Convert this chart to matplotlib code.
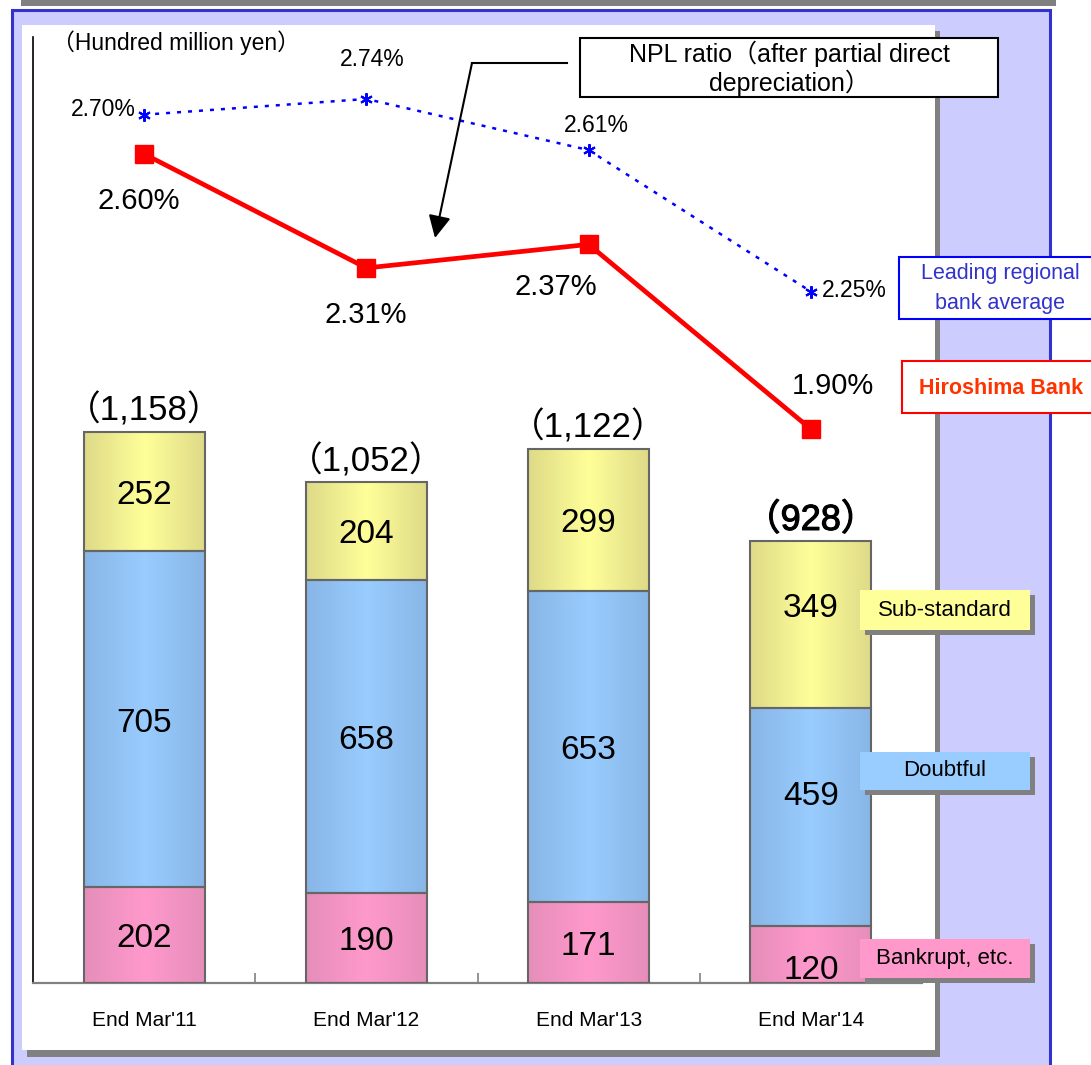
import matplotlib
matplotlib.use("Agg")
import matplotlib.pyplot as plt
import numpy as np
from matplotlib.patches import Rectangle, FancyArrowPatch
from matplotlib.lines import Line2D
from matplotlib.colors import LinearSegmentedColormap
import matplotlib.patheffects as pe

plt.rcParams['font.family'] = ['Liberation Sans', 'Noto Sans CJK JP', 'DejaVu Sans']

# data
periods = ["End Mar'11", "End Mar'12", "End Mar'13", "End Mar'14"]
bankrupt = [202, 190, 171, 120]
doubtful = [705, 658, 653, 459]
substandard = [252, 204, 299, 349]
totals = ["（1,158）", "（1,052）", "（1,122）", "（928）"]
npl_hiroshima = [2.60, 2.31, 2.37, 1.90]
npl_regional = [2.70, 2.74, 2.61, 2.25]

W, H = 1091, 1065
fig = plt.figure(figsize=(W / 100, H / 100), dpi=100)


def fx(x):
    return x / W


def fy(y):
    return 1 - y / H


def rect(x0, y0, x1, y1, **kw):
    r = Rectangle((fx(x0), fy(y1)), (x1 - x0) / W, (y1 - y0) / H,
                  transform=fig.transFigure, **kw)
    fig.add_artist(r)
    return r


# frame / background
rect(21, 0, 1056, 6, facecolor="#808080", edgecolor="none", zorder=-20)
rect(12, 10, 1050, 1070, facecolor="#CCCCFF", edgecolor="#3333CC", lw=2.2, zorder=-20)
rect(27, 31, 940, 1057, facecolor="#808080", edgecolor="none", zorder=-19)
rect(22, 25, 935, 1050, facecolor="white", edgecolor="none", zorder=-18)

# axes
ax = fig.add_axes([fx(33), fy(983), (922 - 33) / W, (983 - 37) / H])
ax.patch.set_visible(False)
x = np.arange(len(periods))
bw = 0.545

yellow = LinearSegmentedColormap.from_list("y", ["#DEDA88", "#FFFF99", "#DEDA88"])
blue = LinearSegmentedColormap.from_list("b", ["#88B6E6", "#99CCFF", "#88B6E6"])
pink = LinearSegmentedColormap.from_list("p", ["#E68EBA", "#FF99CC", "#E68EBA"])
grad = np.linspace(0, 1, 64).reshape(1, -1)

b1 = ax.bar(x, bankrupt, bw, facecolor="none", edgecolor="#666666", lw=1.5, zorder=3)
b2 = ax.bar(x, doubtful, bw, bottom=bankrupt, facecolor="none", edgecolor="#666666", lw=1.5, zorder=3)
bottom3 = np.array(bankrupt) + np.array(doubtful)
b3 = ax.bar(x, substandard, bw, bottom=bottom3, facecolor="none", edgecolor="#666666", lw=1.5, zorder=3)

for bars, cmap in [(b1, pink), (b2, blue), (b3, yellow)]:
    for p in bars:
        x0, y0 = p.get_x(), p.get_y()
        ax.imshow(grad, cmap=cmap, aspect="auto", zorder=2,
                  extent=[x0, x0 + p.get_width(), y0, y0 + p.get_height()])

# segment labels (pixel nudges for the last bar)
nudge = {(3, 0): -12, (3, 1): 24, (3, 2): 20}
for seg, bars in enumerate([b1, b2, b3]):
    for i, p in enumerate(bars):
        cy = p.get_y() + p.get_height() / 2
        ax.annotate(f"{int(p.get_height())}", (p.get_x() + bw / 2, cy),
                    xytext=(0, nudge.get((i, seg), 0) - 4), textcoords="offset pixels",
                    ha="center", va="center", fontsize=24, zorder=5)

tops = bottom3 + np.array(substandard)
for i, t in enumerate(totals):
    big = i == 3
    txt = ax.annotate(t, (x[i], tops[i]), xytext=(0, 21), textcoords="offset pixels",
                      ha="center", va="center", fontsize=26 if big else 25, zorder=5)
    if big:
        txt.set_path_effects([pe.withStroke(linewidth=0.8, foreground="black")])

ax.set_xlim(-0.5, 3.5)
ax.set_ylim(0, 946 / (551 / 1158))
ax.set_xticks(x)
ax.set_xticklabels(periods, fontsize=15)
ax.set_xticks([0.5, 1.5, 2.5], minor=True)
ax.tick_params(axis="x", which="major", length=0, pad=20)
ax.tick_params(axis="x", which="minor", direction="in", length=7, color="#808080", width=1.2)
ax.set_yticks([])
for s in ["top", "right"]:
    ax.spines[s].set_visible(False)
ax.spines["left"].set_color("black")
ax.spines["left"].set_linewidth(1.2)
ax.spines["bottom"].set_color("#808080")
ax.spines["bottom"].set_linewidth(1.6)

# NPL ratio lines
ax2 = ax.twinx()
ax2.patch.set_visible(False)
ax2.set_ylim(0.4906, 2.8977)
ax2.set_yticks([])
for s in ax2.spines.values():
    s.set_visible(False)
ax2.plot(x, npl_regional, color="#0000FF", lw=1.8, ls=(0, (1.6, 2.8)),
         marker=(6, 2, 0), ms=9, mew=1.5, zorder=4)
ax2.plot(x, npl_hiroshima, color="#FF0000", lw=3.4, marker="s", ms=13, zorder=4)

h_off = [(-5, -47), (-1, -47), (-33, -43), (22, 43)]
for i, v in enumerate(npl_hiroshima):
    ax2.annotate(f"{v:.2f}%", (x[i], v), xytext=h_off[i], textcoords="offset pixels",
                 ha="center", va="center", fontsize=21)
r_off = [(-8, 5, "right"), (6, 39, "center"), (8, 25, "center"), (11, 1, "left")]
for i, v in enumerate(npl_regional):
    dx, dy, ha = r_off[i]
    ax2.annotate(f"{v:.2f}%", (x[i], v), xytext=(dx, dy), textcoords="offset pixels",
                 ha=ha, va="center", fontsize=16.5)

# texts and boxes
fig.text(fx(52), fy(43), "（Hundred million yen）", ha="left", va="center", fontsize=16.5)

rect(580, 38, 998, 97, facecolor="white", edgecolor="black", lw=1.5, zorder=10)
fig.text(fx(789), fy(54), "NPL ratio（after partial direct", ha="center", va="center",
         fontsize=18, zorder=11)
fig.text(fx(789), fy(83), "depreciation）", ha="center", va="center", fontsize=18, zorder=11)
fig.add_artist(Line2D([fx(567), fx(472)], [fy(63), fy(63)], color="black", lw=1.5,
                      transform=fig.transFigure, zorder=10))
fig.add_artist(FancyArrowPatch((fx(472), fy(63)), (fx(435), fy(238)),
                               transform=fig.transFigure, arrowstyle="-|>",
                               mutation_scale=34, shrinkA=0, shrinkB=0,
                               color="black", lw=1.5, zorder=10))

rect(899, 257, 1100, 319, facecolor="white", edgecolor="#0000FF", lw=1.5, zorder=10)
fig.text(fx(1000), fy(273), "Leading regional", ha="center", va="center",
         fontsize=15.5, color="#3333CC", zorder=11)
fig.text(fx(1000), fy(303), "bank average", ha="center", va="center",
         fontsize=15.5, color="#3333CC", zorder=11)

rect(902, 361, 1100, 413, facecolor="white", edgecolor="#FF0000", lw=1.5, zorder=10)
fig.text(fx(1001), fy(388), "Hiroshima Bank", ha="center", va="center",
         fontsize=15.5, fontweight="bold", color="#FF3300", zorder=11)

legend_items = [("Sub-standard", "#FFFF99", 590, 630),
                ("Doubtful", "#99CCFF", 752, 790),
                ("Bankrupt, etc.", "#FF99CC", 939, 978)]
for label, col, y0, y1 in legend_items:
    rect(865, y0 + 5, 1035, y1 + 5, facecolor="#808080", edgecolor="none", zorder=10)
    rect(860, y0, 1030, y1, facecolor=col, edgecolor="none", zorder=10)
    fig.text(fx(945), fy((y0 + y1) / 2), label, ha="center", va="center",
             fontsize=16, zorder=11)

fig.savefig("out.png", dpi=100)
